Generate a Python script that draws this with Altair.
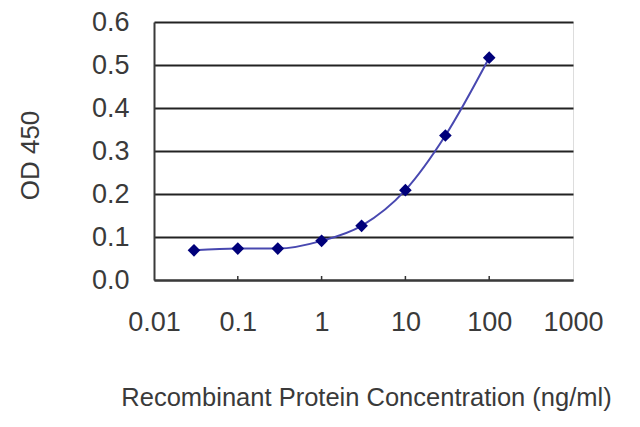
import altair as alt
import pandas as pd

# Dose-response values
concentration = [0.03, 0.1, 0.3, 1, 3, 10, 30, 100]
od_450 = [0.069, 0.073, 0.073, 0.091, 0.126, 0.209, 0.336, 0.517]

x_ticks = [0.01, 0.1, 1, 10, 100, 1000]
y_ticks = [0.0, 0.1, 0.2, 0.3, 0.4, 0.5, 0.6]

font = "Liberation Sans"
text_color = "#3a3a3a"

plot_width = 419
plot_height = 258

df = pd.DataFrame({"conc": concentration, "od": od_450})
ticks_df = pd.DataFrame({"conc": x_ticks[1:-1]})

x_scale = alt.Scale(type="log", domain=[0.01, 1000], nice=False)
y_scale = alt.Scale(domain=[0, 0.6], nice=False)

base = alt.Chart(df)

line = base.mark_line(
    interpolate="monotone", color="#4848b0", strokeWidth=2
).encode(
    x=alt.X("conc:Q", scale=x_scale,
            axis=alt.Axis(
                values=x_ticks, format="~g", grid=False, ticks=False,
                domainColor="#3a3a3a", domainWidth=2,
                labelFont=font, labelFontSize=27, labelColor=text_color,
                labelPadding=29, labelFlush=False,
                title="Recombinant Protein Concentration (ng/ml)",
                titleFont=font, titleFontSize=25.5, titleFontWeight="normal",
                titleColor=text_color, titleX=212, titleY=117,
                titleBaseline="middle", titleAlign="center",
            )),
    y=alt.Y("od:Q", scale=y_scale,
            axis=alt.Axis(
                values=y_ticks, format=".1f", grid=True,
                gridColor="#222222", gridWidth=2, ticks=False,
                domainColor="#3a3a3a", domainWidth=2,
                labelFont=font, labelFontSize=27, labelColor=text_color,
                labelPadding=25,
                title="OD 450", titleFont=font, titleFontSize=26,
                titleFontWeight="normal", titleColor=text_color,
                titleAngle=-90, titleX=-124, titleY=133,
                titleBaseline="middle", titleAlign="center",
            )),
)

points = base.mark_point(
    shape="diamond", filled=True, size=160, color="#00007a", opacity=1
).encode(x=alt.X("conc:Q", scale=x_scale), y=alt.Y("od:Q", scale=y_scale))

# small inward tick marks on the x axis at each decade
tick_marks = alt.Chart(ticks_df).mark_rule(color="#333333", strokeWidth=1.5).encode(
    x=alt.X("conc:Q", scale=x_scale),
    y=alt.value(plot_height),
    y2=alt.value(plot_height - 4),
)

chart = alt.layer(line, tick_marks, points).properties(
    width=plot_width,
    height=plot_height,
    autosize=alt.AutoSizeParams(type="none"),
    padding={"left": 146, "top": 14, "right": 40, "bottom": 135},
).configure_view(
    stroke="#8a8a8a", strokeWidth=1.5
).configure(background="white")

chart.save("out.html", embed_options={"renderer": "svg", "actions": False})
